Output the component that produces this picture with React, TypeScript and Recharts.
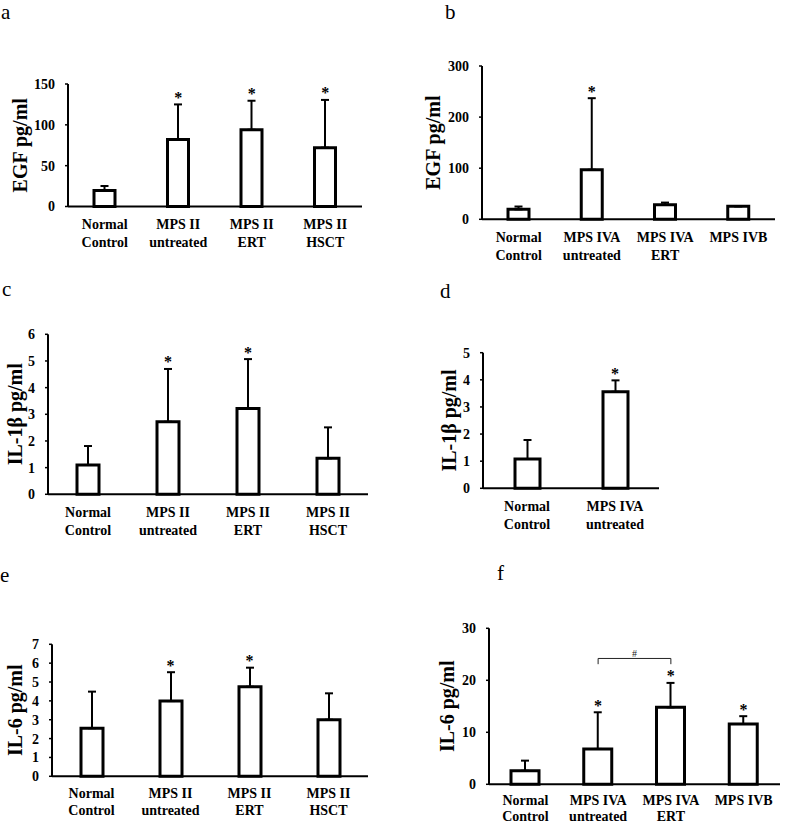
import {
  Bar,
  ComposedChart,
  ErrorBar,
  Label,
  LabelList,
  Line,
  ReferenceLine,
  XAxis,
  YAxis,
} from "recharts";

// group names ("\n" = line break in the axis label)
const mpsIIGroups = ["Normal\nControl", "MPS II\nuntreated", "MPS II\nERT", "MPS II\nHSCT"];
const mpsIVGroups = ["Normal\nControl", "MPS IVA\nuntreated", "MPS IVA\nERT", "MPS IVB"];
const mpsIVAGroups = ["Normal\nControl", "MPS IVA\nuntreated"];

// a: EGF, MPS II
const egfIIMean = [19.5, 82, 94, 72];
const egfIISd = [5.6, 43, 35.5, 58.5];
const egfIIStar = [false, true, true, true];
const egfIITicks = [0, 50, 100, 150];

// b: EGF, MPS IV
const egfIVMean = [19.5, 97, 28.7, 25.5];
const egfIVSd = [5.5, 140, 4, 0];
const egfIVStar = [false, true, false, false];
const egfIVTicks = [0, 100, 200, 300];

// c: IL-1b, MPS II
const il1IIMean = [1.1, 2.72, 3.22, 1.35];
const il1IISd = [0.71, 1.98, 1.85, 1.16];
const il1IIStar = [false, true, true, false];
const il1IITicks = [0, 1, 2, 3, 4, 5, 6];

// d: IL-1b, MPS IVA
const il1IVMean = [1.08, 3.56];
const il1IVSd = [0.7, 0.42];
const il1IVStar = [false, true];
const il1IVTicks = [0, 1, 2, 3, 4, 5];

// e: IL-6, MPS II
const il6IIMean = [2.55, 3.99, 4.75, 3.0];
const il6IISd = [1.94, 1.53, 1.01, 1.4];
const il6IIStar = [false, true, true, false];
const il6IITicks = [0, 1, 2, 3, 4, 5, 6, 7];

// f: IL-6, MPS IV
const il6IVMean = [2.6, 6.8, 14.8, 11.6];
const il6IVSd = [1.95, 7.05, 4.7, 1.5];
const il6IVStar = [false, true, true, true];
const il6IVTicks = [0, 10, 20, 30];
const il6IVBracket = ["MPS IVA\nuntreated", "MPS IVA\nERT"];
const il6IVBracketLevel = 24.2;
const il6IVBracketFoot = 23.1;

function rows(names: string[], mean: number[], sd: number[], star: boolean[]) {
  return names.map((name, i) => ({
    name,
    mean: mean[i],
    err: [0, sd[i]],
    star: star[i] ? mean[i] + sd[i] : null,
  }));
}

function CatTick({ x, y, payload, first = 22.5, gap = 18 }: any) {
  const lines = String(payload.value).split("\n");
  return (
    <text x={x} y={y} textAnchor="middle" fontSize={14} fontWeight={700} fill="#000">
      {lines.map((l, i) => (
        <tspan key={i} x={x} dy={i === 0 ? first : gap}>
          {l}
        </tspan>
      ))}
    </text>
  );
}

function Star({ x, y, value }: any) {
  if (value == null || y == null) return null;
  return (
    <text x={x} y={y - 1.5} textAnchor="middle" fontSize={16} fontWeight={700} fill="#000">
      *
    </text>
  );
}

const panels = [
  { key: "a", left: 0, top: 0, mTop: 84, plotH: 122.5, axisW: 68, mRight: 33, labelX: 20, barSize: 21, label: "EGF pg/ml", ticks: egfIITicks, data: rows(mpsIIGroups, egfIIMean, egfIISd, egfIIStar) },
  { key: "b", left: 395, top: 0, mTop: 66, plotH: 153.3, axisW: 87, mRight: 15, labelX: 38, barSize: 21, label: "EGF pg/ml", ticks: egfIVTicks, data: rows(mpsIVGroups, egfIVMean, egfIVSd, egfIVStar) },
  { key: "c", left: 0, top: 275, mTop: 59.3, plotH: 160, axisW: 48, mRight: 27, labelX: 15, barSize: 22, label: "IL-1β pg/ml", ticks: il1IITicks, data: rows(mpsIIGroups, il1IIMean, il1IISd, il1IIStar) },
  { key: "d", left: 395, top: 275, mTop: 77.7, plotH: 135.6, axisW: 88, mRight: 131, labelX: 54, barSize: 25, label: "IL-1β pg/ml", ticks: il1IVTicks, data: rows(mpsIVAGroups, il1IVMean, il1IVSd, il1IVStar) },
  { key: "e", left: 0, top: 550, mTop: 94.3, plotH: 132, axisW: 52, mRight: 27, labelX: 15, barSize: 22, label: "IL-6 pg/ml", ticks: il6IITicks, data: rows(mpsIIGroups, il6IIMean, il6IISd, il6IIStar), first: 22, gap: 16.5 },
  { key: "f", left: 395, top: 550, mTop: 78.3, plotH: 156, axisW: 94, mRight: 10, labelX: 52, barSize: 28, label: "IL-6 pg/ml", ticks: il6IVTicks, data: rows(mpsIVGroups, il6IVMean, il6IVSd, il6IVStar), bracket: true, first: 21, gap: 15.5 },
];

const letters = [
  { t: "a", x: 1, y: 19 },
  { t: "b", x: 445, y: 19 },
  { t: "c", x: 2, y: 296 },
  { t: "d", x: 440, y: 298 },
  { t: "e", x: 0, y: 582 },
  { t: "f", x: 497, y: 580 },
];

const XH = 45;

function Panel({ p }: any) {
  const max = p.ticks[p.ticks.length - 1];
  return (
    <div style={{ position: "absolute", left: p.left, top: p.top }}>
      <ComposedChart
        width={395}
        height={p.mTop + p.plotH + XH}
        data={p.data}
        margin={{ top: p.mTop, right: p.mRight, bottom: 0, left: 0 }}
      >
        <XAxis
          dataKey="name"
          interval={0}
          tickLine={false}
          tickSize={0}
          tickMargin={0}
          height={XH}
          axisLine={{ stroke: "#000", strokeWidth: 2 }}
          tick={<CatTick first={p.first} gap={p.gap} />}
        />
        <YAxis
          type="number"
          domain={[0, max]}
          ticks={p.ticks}
          interval={0}
          width={p.axisW}
          tickSize={3}
          tickMargin={10}
          axisLine={{ stroke: "#000", strokeWidth: 2 }}
          tickLine={{ stroke: "#000", strokeWidth: 1.5 }}
          tick={{ fill: "#000", fontSize: 14, fontWeight: 700 }}
        >
          <Label
            value={p.label}
            angle={-90}
            position="insideLeft"
            offset={p.labelX}
            style={{ textAnchor: "middle", fontSize: 20, fontWeight: 700, fill: "#000" }}
          />
        </YAxis>
        <Bar
          dataKey="mean"
          barSize={p.barSize}
          fill="#fff"
          stroke="#000"
          strokeWidth={3}
          isAnimationActive={false}
        >
          <ErrorBar dataKey="err" direction="y" width={4} stroke="#000" strokeWidth={2} />
        </Bar>
        <Line
          dataKey="star"
          stroke="none"
          dot={false}
          activeDot={false}
          isAnimationActive={false}
        >
          <LabelList dataKey="star" content={<Star />} />
        </Line>
        {p.bracket && (
          <ReferenceLine
            segment={[
              { x: il6IVBracket[0], y: il6IVBracketLevel },
              { x: il6IVBracket[1], y: il6IVBracketLevel },
            ]}
            stroke="#222"
            strokeWidth={1}
            label={{ value: "#", position: "top", offset: 1, fontSize: 10, fill: "#222" }}
          />
        )}
        {p.bracket && (
          <ReferenceLine
            segment={[
              { x: il6IVBracket[0], y: il6IVBracketLevel },
              { x: il6IVBracket[0], y: il6IVBracketFoot },
            ]}
            stroke="#222"
            strokeWidth={1}
          />
        )}
        {p.bracket && (
          <ReferenceLine
            segment={[
              { x: il6IVBracket[1], y: il6IVBracketLevel },
              { x: il6IVBracket[1], y: il6IVBracketFoot },
            ]}
            stroke="#222"
            strokeWidth={1}
          />
        )}
      </ComposedChart>
    </div>
  );
}

export default function App() {
  return (
    <div
      style={{
        position: "absolute",
        left: 0,
        top: 0,
        width: 790,
        height: 824,
        overflow: "hidden",
        background: "#fff",
        fontFamily: '"Liberation Serif", "Times New Roman", serif',
      }}
    >
      {panels.map((p) => (
        <Panel key={p.key} p={p} />
      ))}
      <svg width={790} height={824} style={{ position: "absolute", left: 0, top: 0, pointerEvents: "none" }}>
        {letters.map((l) => (
          <text key={l.t} x={l.x} y={l.y} fontSize={21} fill="#000">
            {l.t}
          </text>
        ))}
      </svg>
    </div>
  );
}
